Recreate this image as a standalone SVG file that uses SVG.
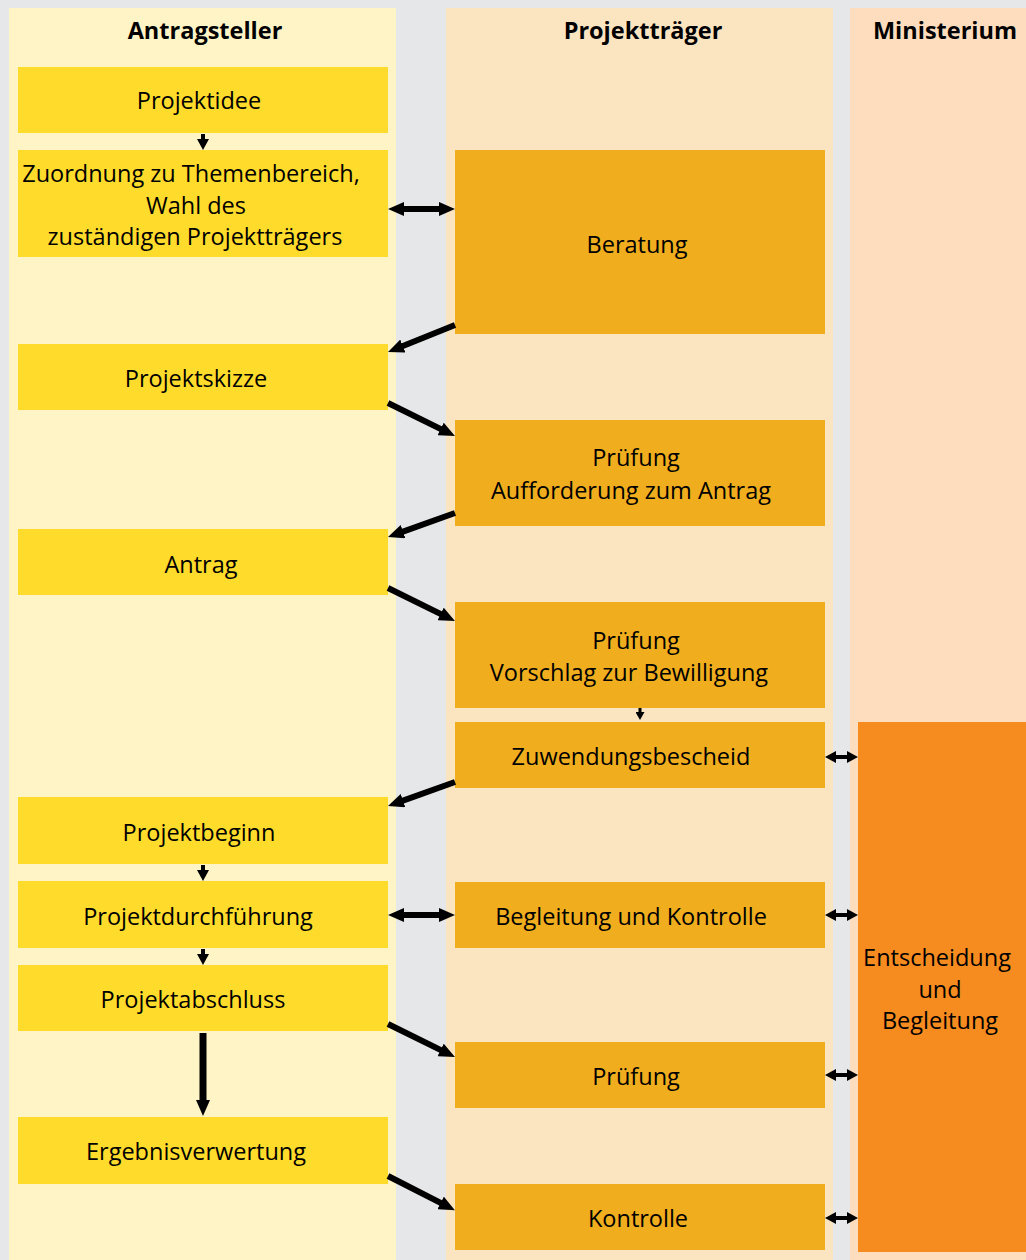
<svg xmlns="http://www.w3.org/2000/svg" width="1026" height="1260" viewBox="0 0 1026 1260">
<style>
  .lane1 { fill: #fff4c6; }
  .lane2 { fill: #fbe5c1; }
  .lane3 { fill: #feddbe; }
  .bx1 { fill: #ffdc2c; }
  .bx2 { fill: #f0ae1f; }
  .bx3 { fill: #f68c20; }
  text { font-family: "Open Sans", "Noto Sans", sans-serif; font-size: 23.5px; fill: #000; text-anchor: middle; }
  .hd { font-weight: bold; font-size: 23.5px; }
  .c { stroke: #000; fill: none; }
  .w6 { stroke-width: 6; }
  .w4 { stroke-width: 4; }
  .w3 { stroke-width: 3; }
</style>
<defs>
  <marker id="ah" markerUnits="userSpaceOnUse" markerWidth="16" markerHeight="14" refX="6" refY="7" orient="auto-start-reverse" viewBox="0 0 16 14">
    <path d="M0,0 L16,7 L0,14 z" fill="#000"/>
  </marker>
  <marker id="as" markerUnits="userSpaceOnUse" markerWidth="11" markerHeight="12" refX="4" refY="6" orient="auto-start-reverse" viewBox="0 0 11 12">
    <path d="M0,0 L11,6 L0,12 z" fill="#000"/>
  </marker>
  <marker id="at" markerUnits="userSpaceOnUse" markerWidth="8" markerHeight="9" refX="3" refY="4.5" orient="auto" viewBox="0 0 8 9">
    <path d="M0,0 L8,4.5 L0,9 z" fill="#000"/>
  </marker>
</defs>
<rect width="1026" height="1260" fill="#e6e7e9"/>
<g id="lanes">
  <rect class="lane1" x="9" y="8" width="387" height="1252"/>
  <rect class="lane2" x="446" y="8" width="387" height="1252"/>
  <rect class="lane3" x="850" y="8" width="176" height="1252"/>
  <text class="hd" x="205" y="39">Antragsteller</text>
  <text class="hd" x="643" y="39">Projektträger</text>
  <text class="hd" x="945" y="39">Ministerium</text>
</g>
<g id="n-projektidee"><rect class="bx1" x="18" y="67" width="370" height="66"/><text x="199" y="109">Projektidee</text></g>
<g id="n-zuordnung"><rect class="bx1" x="18" y="150" width="370" height="107"/>
  <text x="191" y="182">Zuordnung zu Themenbereich,</text>
  <text x="196" y="214">Wahl des</text>
  <text x="195" y="245">zuständigen Projektträgers</text></g>
<g id="n-projektskizze"><rect class="bx1" x="18" y="344" width="370" height="66"/><text x="196" y="387">Projektskizze</text></g>
<g id="n-antrag"><rect class="bx1" x="18" y="529" width="370" height="66"/><text x="201" y="573">Antrag</text></g>
<g id="n-projektbeginn"><rect class="bx1" x="18" y="797" width="370" height="67"/><text x="199" y="841">Projektbeginn</text></g>
<g id="n-durchfuehrung"><rect class="bx1" x="18" y="881" width="370" height="67"/><text x="198" y="925">Projektdurchführung</text></g>
<g id="n-abschluss"><rect class="bx1" x="18" y="965" width="370" height="66"/><text x="193" y="1008">Projektabschluss</text></g>
<g id="n-ergebnis"><rect class="bx1" x="18" y="1117" width="370" height="67"/><text x="196" y="1160">Ergebnisverwertung</text></g>

<g id="n-beratung"><rect class="bx2" x="455" y="150" width="370" height="184"/><text x="637" y="253">Beratung</text></g>
<g id="n-pruefung1"><rect class="bx2" x="455" y="420" width="370" height="106"/>
  <text x="636" y="466">Prüfung</text><text x="631" y="499">Aufforderung zum Antrag</text></g>
<g id="n-pruefung2"><rect class="bx2" x="455" y="602" width="370" height="106"/>
  <text x="636" y="649">Prüfung</text><text x="629" y="681">Vorschlag zur Bewilligung</text></g>
<g id="n-zuwendung"><rect class="bx2" x="455" y="722" width="370" height="66"/><text x="631" y="765">Zuwendungsbescheid</text></g>
<g id="n-begleitung"><rect class="bx2" x="455" y="882" width="370" height="66"/><text x="631" y="925">Begleitung und Kontrolle</text></g>
<g id="n-pruefung3"><rect class="bx2" x="455" y="1042" width="370" height="66"/><text x="636" y="1085">Prüfung</text></g>
<g id="n-kontrolle"><rect class="bx2" x="455" y="1184" width="370" height="66"/><text x="638" y="1227">Kontrolle</text></g>

<g id="n-ministerium"><rect class="bx3" x="858" y="722" width="168" height="530"/>
  <text x="937" y="966">Entscheidung</text><text x="940" y="998">und</text><text x="940" y="1029">Begleitung</text></g>

<g id="connectors">
  <line class="c w4" x1="203" y1="134" x2="203" y2="143" marker-end="url(#as)"/>
  <line class="c w6" x1="398" y1="209" x2="445" y2="209" marker-start="url(#ah)" marker-end="url(#ah)"/>
  <line class="c w6" x1="455" y1="325" x2="397.3" y2="348.3" marker-end="url(#ah)"/>
  <line class="c w6" x1="388" y1="403" x2="446" y2="431.6" marker-end="url(#ah)"/>
  <line class="c w6" x1="455" y1="513" x2="397.4" y2="533.6" marker-end="url(#ah)"/>
  <line class="c w6" x1="388" y1="588" x2="446" y2="616.6" marker-end="url(#ah)"/>
  <line class="c w3" x1="640" y1="708" x2="640" y2="715" marker-end="url(#at)"/>
  <line class="c w6" x1="455" y1="782" x2="397.4" y2="802.6" marker-end="url(#ah)"/>
  <line class="c w4" x1="832" y1="757" x2="851" y2="757" marker-start="url(#as)" marker-end="url(#as)"/>
  <line class="c w4" x1="203" y1="865" x2="203" y2="874" marker-end="url(#as)"/>
  <line class="c w6" x1="398" y1="915" x2="445" y2="915" marker-start="url(#ah)" marker-end="url(#ah)"/>
  <line class="c w4" x1="832" y1="915" x2="851" y2="915" marker-start="url(#as)" marker-end="url(#as)"/>
  <line class="c w4" x1="203" y1="949" x2="203" y2="958" marker-end="url(#as)"/>
  <line class="c w6" x1="388" y1="1024" x2="446" y2="1052.6" marker-end="url(#ah)"/>
  <line class="c" stroke-width="7" x1="203" y1="1033" x2="203" y2="1106" marker-end="url(#ah)"/>
  <line class="c w4" x1="832" y1="1075" x2="851" y2="1075" marker-start="url(#as)" marker-end="url(#as)"/>
  <line class="c w6" x1="388" y1="1176" x2="446" y2="1205.6" marker-end="url(#ah)"/>
  <line class="c w4" x1="832" y1="1218" x2="851" y2="1218" marker-start="url(#as)" marker-end="url(#as)"/>
</g>
</svg>
